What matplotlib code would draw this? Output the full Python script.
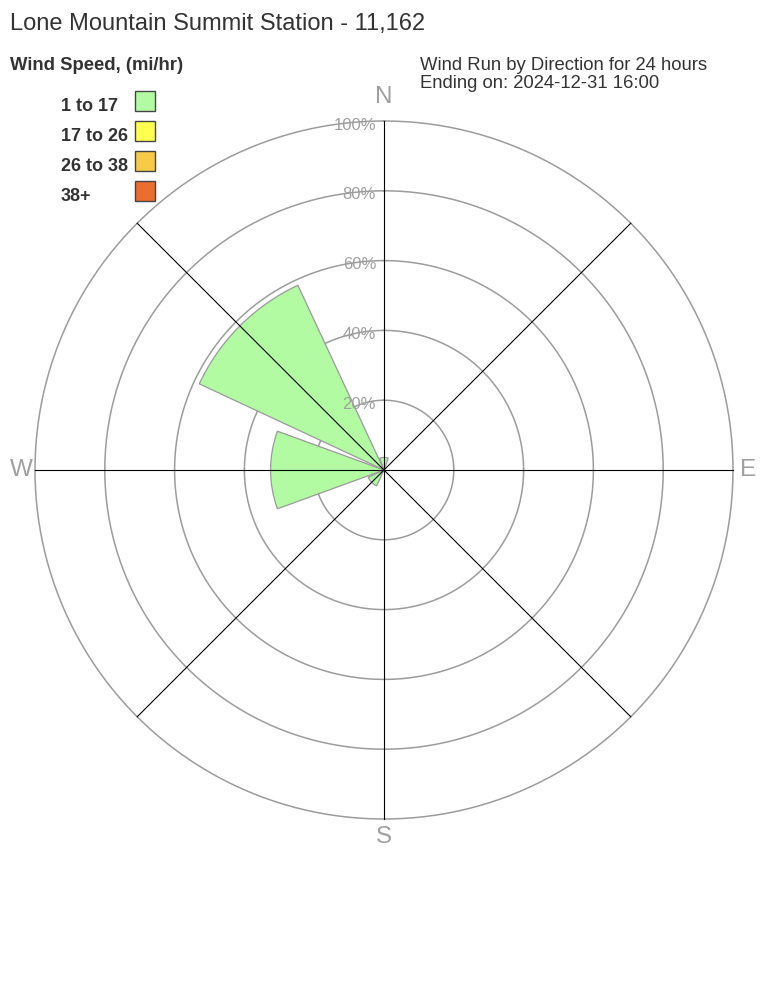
import matplotlib
matplotlib.use('Agg')
import matplotlib.pyplot as plt
from matplotlib.patches import Rectangle
import numpy as np

plt.rcParams['font.family'] = ['Liberation Sans', 'DejaVu Sans']

# 数据
directions = ['N', 'NE', 'E', 'SE', 'S', 'SW', 'W', 'NW']
dir_angles = [0, 45, 90, 135, 180, 225, 270, 315]
speed_bins = ['1 to 17', '17 to 26', '26 to 38', '38+']
bin_colors = ['#b3fba3', '#ffff4f', '#f7cb47', '#eb6e2e']
run_1_17 = [3.6, 0, 0, 0, 0, 5.0, 32.5, 58.4]
run_17_26 = [0, 0, 0, 0, 0, 0, 0, 0]
run_26_38 = [0, 0, 0, 0, 0, 0, 0, 0]
run_38p = [0, 0, 0, 0, 0, 0, 0, 0]
ring_values = [20, 40, 60, 80, 100]
compass_labels = ['N', 'E', 'S', 'W']

W, H = 768, 1008
fig = plt.figure(figsize=(W / 100, H / 100), dpi=100)
fig.patch.set_facecolor('white')

txt = '#333333'
grey = '#a0a0a0'

# 极坐标轴：中心 (384, 470)，半径 349 像素
cx, cy, R = 384, 470, 349
ax = fig.add_axes([(cx - R) / W, (H - cy - R) / H, 2 * R / W, 2 * R / H], projection='polar')
ax.set_theta_zero_location('N')
ax.set_theta_direction(-1)
ax.set_ylim(0, 100)
ax.grid(False)
ax.set_xticks([])
ax.set_yticks([])
ax.spines['polar'].set_visible(False)
ax.patch.set_alpha(0)

# 圆环
circ = np.linspace(0, 2 * np.pi, 400)
for r in ring_values:
    ax.plot(circ, np.full_like(circ, r), color='#9c9c9c', lw=1.1, zorder=1, clip_on=False)

# 风玫瑰扇形（堆叠）
theta = np.radians(dir_angles)
bottom = np.zeros(len(directions))
for vals, col in zip([run_1_17, run_17_26, run_26_38, run_38p], bin_colors):
    vals = np.array(vals, dtype=float)
    mask = vals > 0
    if mask.any():
        ax.bar(theta[mask], vals[mask], width=np.radians(40), bottom=bottom[mask],
               color=col, edgecolor='#9a9a9a', linewidth=0.9, zorder=2)
    bottom += vals

# 方向线
for a in dir_angles:
    ax.plot([np.radians(a)] * 2, [0, 100], color='black', lw=0.8, zorder=3, clip_on=False)

# 百分比标签
for r in ring_values:
    ax.annotate(f'{r}%', xy=(0, r), xytext=(-8, -4), textcoords='offset pixels',
                ha='right', va='center', fontsize=12, color=grey, zorder=4,
                annotation_clip=False)

# 方位标签
compass_pos = {'N': (0, 106.9), 'E': (90, 104.3), 'S': (180, 105.1), 'W': (270, 104.0)}
for lab in compass_labels:
    a, r = compass_pos[lab]
    ax.text(np.radians(a), r, lab, ha='center', va='center', fontsize=17.5,
            color=grey, clip_on=False)

# 标题和说明文字
def fy(y):
    return 1 - y / H

fig.text(10 / W, fy(30), 'Lone Mountain Summit Station - 11,162', fontsize=17,
         color=txt, ha='left', va='baseline')
fig.text(10 / W, fy(70), 'Wind Speed, (mi/hr)', fontsize=13.3, fontweight='bold',
         color=txt, ha='left', va='baseline')
fig.text(420 / W, fy(70), 'Wind Run by Direction for 24 hours', fontsize=13.3,
         color=txt, ha='left', va='baseline')
fig.text(420 / W, fy(88), 'Ending on: 2024-12-31 16:00', fontsize=13.3,
         color=txt, ha='left', va='baseline')

# 图例
for i, (lab, col) in enumerate(zip(speed_bins, bin_colors)):
    top = 90.7 + 30 * i
    fig.text(61 / W, fy(top + 20), lab, fontsize=13, fontweight='bold',
             color=txt, ha='left', va='baseline')
    fig.patches.append(Rectangle((135 / W, fy(top + 20)), 20 / W, 20 / H,
                                 transform=fig.transFigure, facecolor=col,
                                 edgecolor='#444444', lw=1.0))

fig.savefig('out.png', dpi=100, facecolor='white')
